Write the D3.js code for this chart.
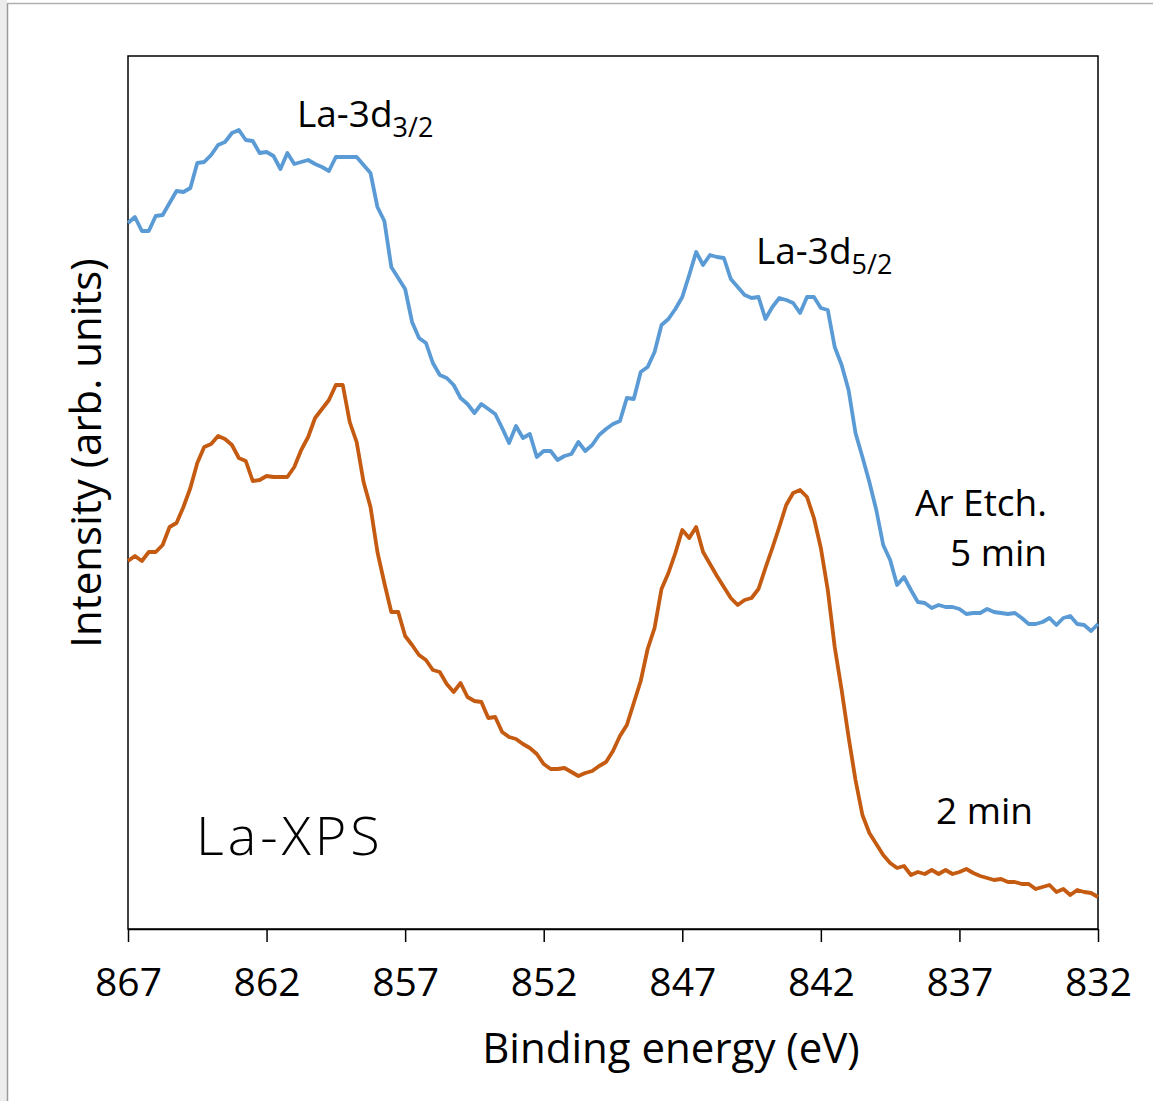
<!DOCTYPE html>
<html>
<head>
<meta charset="utf-8">
<script src="https://cdn.jsdelivr.net/npm/d3@7"></script>
<style>
  body { margin: 0; background: #fff; }
  svg text { font-family: "Open Sans", "Noto Sans", sans-serif; fill: #000; }
</style>
</head>
<body>
<div id="xps"></div>
<script>
// binding energy grid (eV), shared by both spectra
var energy = [867, 866.75, 866.5, 866.25, 866, 865.75, 865.5, 865.25, 865, 864.75,
  864.5, 864.25, 864, 863.75, 863.5, 863.25, 863, 862.75, 862.5, 862.25,
  862, 861.75, 861.5, 861.25, 861, 860.75, 860.5, 860.25, 860, 859.75,
  859.5, 859.25, 859, 858.75, 858.5, 858.25, 858, 857.75, 857.5, 857.25,
  857, 856.75, 856.5, 856.25, 856, 855.75, 855.5, 855.25, 855, 854.75,
  854.5, 854.25, 854, 853.75, 853.5, 853.25, 853, 852.75, 852.5, 852.25,
  852, 851.75, 851.5, 851.25, 851, 850.75, 850.5, 850.25, 850, 849.75,
  849.5, 849.25, 849, 848.75, 848.5, 848.25, 848, 847.75, 847.5, 847.25,
  847, 846.75, 846.5, 846.25, 846, 845.75, 845.5, 845.25, 845, 844.75,
  844.5, 844.25, 844, 843.75, 843.5, 843.25, 843, 842.75, 842.5, 842.25,
  842, 841.75, 841.5, 841.25, 841, 840.75, 840.5, 840.25, 840, 839.75,
  839.5, 839.25, 839, 838.75, 838.5, 838.25, 838, 837.75, 837.5, 837.25,
  837, 836.75, 836.5, 836.25, 836, 835.75, 835.5, 835.25, 835, 834.75,
  834.5, 834.25, 834, 833.75, 833.5, 833.25, 833, 832.75, 832.5, 832.25, 832];

// Ar etch 5 min (arb. units)
var etch5 = [706, 712, 698, 698, 713, 714, 726, 738, 737, 741,
  766, 767, 774, 784, 787, 796, 799, 789, 788, 776,
  777, 773, 760, 776, 765, 767, 769, 765, 762, 758,
  772, 772, 772, 772, 764, 756, 722, 708, 662, 651,
  640, 607, 591, 586, 566, 554, 551, 544, 531, 525,
  516, 525, 520, 515, 501, 486, 503, 491, 495, 472,
  478, 478, 469, 473, 475, 487, 478, 484, 494, 500,
  505, 508, 531, 530, 557, 562, 577, 604, 610, 620,
  632, 654, 677, 664, 674, 672, 671, 650, 642, 634,
  631, 632, 610, 622, 631, 629, 626, 616, 632, 632,
  621, 619, 582, 564, 539, 496, 472, 447, 419, 384,
  369, 344, 352, 339, 327, 326, 321, 324, 322, 322,
  320, 315, 316, 316, 320, 317, 316, 315, 316, 311,
  305, 305, 307, 311, 304, 311, 313, 305, 304, 298, 305];

// Ar etch 2 min (arb. units)
var etch2 = [368, 373, 368, 377, 377, 384, 402, 406, 422, 441,
  466, 482, 485, 493, 490, 484, 471, 468, 448, 449,
  453, 452, 452, 452, 462, 479, 492, 511, 520, 529,
  544, 544, 507, 487, 447, 422, 377, 346, 317, 317,
  293, 284, 274, 269, 259, 257, 245, 237, 246, 232,
  228, 227, 211, 212, 197, 192, 190, 185, 181, 175,
  165, 160, 160, 161, 157, 153, 156, 158, 163, 167,
  178, 193, 204, 226, 248, 280, 301, 340, 356, 376,
  399, 391, 402, 377, 365, 353, 342, 331, 324, 329,
  331, 340, 361, 381, 402, 424, 436, 439, 432, 411,
  381, 339, 282, 239, 192, 149, 114, 96, 85, 74,
  66, 61, 63, 54, 57, 55, 59, 55, 59, 55,
  57, 60, 56, 53, 51, 49, 50, 47, 47, 45,
  45, 40, 42, 44, 37, 40, 34, 39, 37, 36, 32];

var xTicks = [867, 862, 857, 852, 847, 842, 837, 832];

var W = 1153, H = 1101;
var margin = { top: 56, right: 55, bottom: 172, left: 128 },
    width = W - margin.left - margin.right,
    height = H - margin.top - margin.bottom;

var svg = d3.select("#xps")
    .append("svg")
    .attr("width", W)
    .attr("height", H);

// window edge from the screenshot
svg.append("rect").attr("x", 0).attr("y", 0).attr("width", 7).attr("height", H).attr("fill", "#ededed");
svg.append("line").attr("x1", 7.5).attr("x2", 7.5).attr("y1", 3).attr("y2", H).attr("stroke", "#9a9a9a").attr("stroke-width", 1.5);
svg.append("line").attr("x1", 7).attr("x2", W).attr("y1", 3.5).attr("y2", 3.5).attr("stroke", "#b0b0b0").attr("stroke-width", 1.5);

var g = svg.append("g")
    .attr("transform", "translate(" + margin.left + "," + margin.top + ")");

var x = d3.scaleLinear()
    .domain([867, 832])
    .range([0, width]);

var y = d3.scaleLinear()
    .domain([0, 873])
    .range([height, 0]);

// plot frame
g.append("rect")
    .attr("width", width)
    .attr("height", height)
    .attr("fill", "none")
    .attr("stroke", "#000")
    .attr("stroke-width", 1.5);

// bottom axis
var xAxis = g.append("g")
    .attr("transform", "translate(0," + height + ")")
    .call(d3.axisBottom(x).tickValues(xTicks).tickSize(13).tickSizeOuter(0).tickPadding(26).tickFormat(d3.format("d")));
xAxis.select(".domain").attr("stroke-width", 1.5);
xAxis.selectAll(".tick line").attr("stroke-width", 1.5);
xAxis.selectAll("text")
    .attr("font-family", "'Open Sans', sans-serif")
    .attr("font-size", "39px")
    .attr("dy", "0.71em");

var line = d3.line()
    .x(function (d, i) { return x(energy[i]); })
    .y(function (d) { return y(d); });

g.append("path")
    .datum(etch5)
    .attr("fill", "none")
    .attr("stroke", "#5B9BD5")
    .attr("stroke-width", 3.8)
    .attr("stroke-linejoin", "round")
    .attr("d", line);

g.append("path")
    .datum(etch2)
    .attr("fill", "none")
    .attr("stroke", "#C55A11")
    .attr("stroke-width", 3.8)
    .attr("stroke-linejoin", "round")
    .attr("d", line);

// axis titles
svg.append("text")
    .attr("x", 671)
    .attr("y", 1063)
    .attr("text-anchor", "middle")
    .attr("font-size", "42px")
    .text("Binding energy (eV)");

svg.append("text")
    .attr("transform", "translate(101,453)rotate(-90)")
    .attr("text-anchor", "middle")
    .attr("font-size", "42px")
    .text("Intensity (arb. units)");

// peak labels
function peak(px, py, sub) {
    var t = svg.append("text")
        .attr("x", px)
        .attr("y", py)
        .attr("font-size", "37px");
    t.append("tspan").text("La-3d");
    t.append("tspan")
        .attr("dy", 10)
        .attr("font-size", "27px")
        .text(sub);
}
peak(297, 127, "3/2");
peak(756, 264, "5/2");

svg.append("text")
    .attr("x", 1047).attr("y", 516)
    .attr("text-anchor", "end")
    .attr("font-size", "37px")
    .text("Ar Etch.");
svg.append("text")
    .attr("x", 1047).attr("y", 566)
    .attr("text-anchor", "end")
    .attr("font-size", "37px")
    .text("5 min");
svg.append("text")
    .attr("x", 1033).attr("y", 824)
    .attr("text-anchor", "end")
    .attr("font-size", "37px")
    .text("2 min");

svg.append("text")
    .attr("x", 196).attr("y", 855)
    .attr("font-family", "Roboto, sans-serif")
    .attr("font-weight", 300)
    .attr("font-size", "54px")
    .attr("letter-spacing", "4px")
    .text("La-XPS");
</script>
</body>
</html>
